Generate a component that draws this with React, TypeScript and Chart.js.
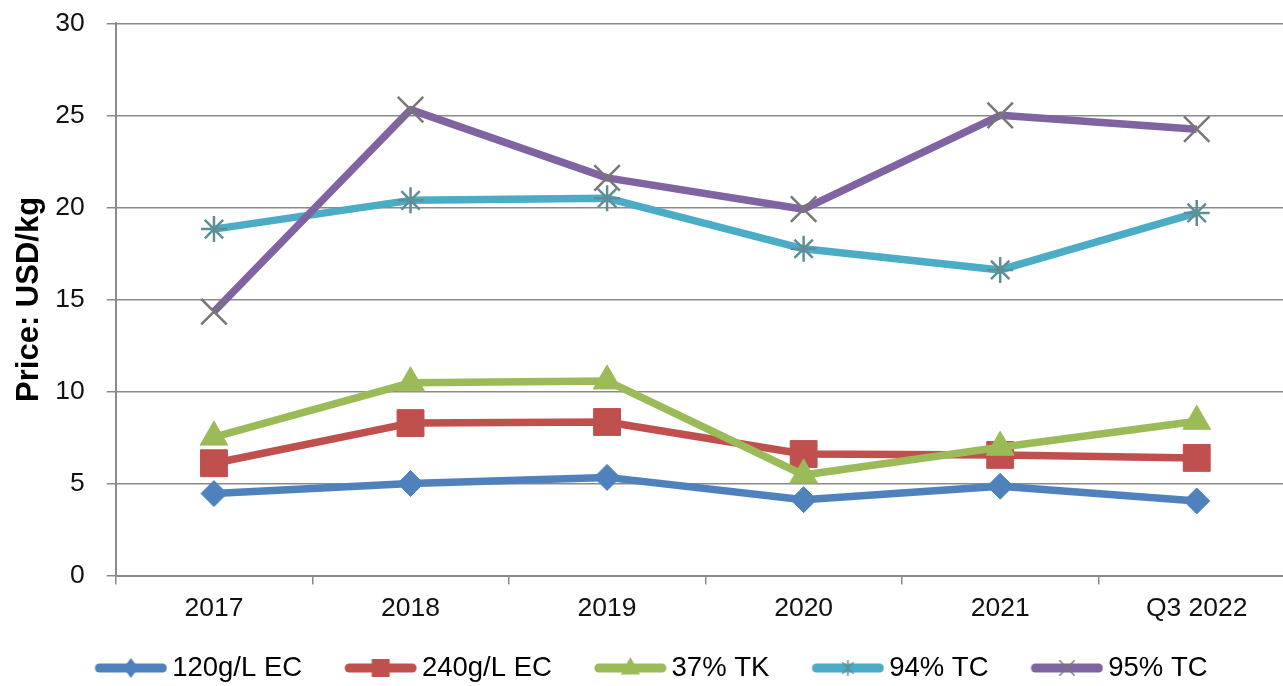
import React, { useEffect, useRef } from "react";
import { Chart, registerables } from "chart.js";

Chart.register(...registerables);

const categories = ["2017", "2018", "2019", "2020", "2021", "Q3 2022"];
const seriesNames = ["120g/L EC", "240g/L EC", "37% TK", "94% TC", "95% TC"];
const ec120 = [4.45, 5.0, 5.33, 4.12, 4.85, 4.05];
const ec240 = [6.1, 8.28, 8.34, 6.6, 6.55, 6.39];
const tk37 = [7.52, 10.47, 10.57, 5.46, 6.97, 8.38];
const tc94 = [18.82, 20.38, 20.5, 17.75, 16.6, 19.7];
const tc95 = [14.33, 25.31, 21.6, 19.9, 25.0, 24.25];
const yMin = 0;
const yMax = 30;
const yStep = 5;
const yTitle = "Price: USD/kg";

const FONT = "'Liberation Sans', Arial, sans-serif";
const GRID = "#8a8a8a";
const LEGEND_SHIFT = -14.25;

type Style = "rectRot" | "rect" | "triangle" | "star" | "crossRot";

const seriesStyle: { color: string; style: Style; radius: number; pBorder: string; pBorderW: number; legendR: number }[] = [
  { color: "#4F81BD", style: "rectRot", radius: 13, pBorder: "#4F81BD", pBorderW: 1, legendR: 10 },
  { color: "#C0504D", style: "rect", radius: 19, pBorder: "#C0504D", pBorderW: 1, legendR: 9 },
  { color: "#9BBB59", style: "triangle", radius: 16, pBorder: "#9BBB59", pBorderW: 1, legendR: 11 },
  { color: "#4BACC6", style: "star", radius: 13, pBorder: "#5e8e98", pBorderW: 2.5, legendR: 8 },
  { color: "#8064A2", style: "crossRot", radius: 18, pBorder: "#777777", pBorderW: 2.5, legendR: 11 },
];

function makeIcon(color: string, style: Style, r: number, border: string): HTMLCanvasElement {
  const c = document.createElement("canvas");
  c.width = 82;
  c.height = 26;
  const ctx = c.getContext("2d")!;
  const cx = 45.5;
  const cy = 13;
  ctx.strokeStyle = color;
  ctx.lineWidth = 9;
  ctx.lineCap = "round";
  ctx.beginPath();
  ctx.moveTo(14, cy);
  ctx.lineTo(77, cy);
  ctx.stroke();
  ctx.fillStyle = color;
  ctx.beginPath();
  if (style === "rectRot") {
    ctx.moveTo(cx, cy - r);
    ctx.lineTo(cx + r * 0.75, cy);
    ctx.lineTo(cx, cy + r);
    ctx.lineTo(cx - r * 0.75, cy);
    ctx.closePath();
    ctx.fill();
  } else if (style === "rect") {
    ctx.rect(cx - r, cy - r, 2 * r, 2 * r);
    ctx.fill();
  } else if (style === "triangle") {
    ctx.moveTo(cx, cy - r);
    ctx.lineTo(cx + r * 0.87, cy + r * 0.6);
    ctx.lineTo(cx - r * 0.87, cy + r * 0.6);
    ctx.closePath();
    ctx.fill();
  } else {
    ctx.strokeStyle = border;
    ctx.lineWidth = 1.5;
    ctx.lineCap = "butt";
    const d = r * 0.7;
    ctx.moveTo(cx - d, cy - d);
    ctx.lineTo(cx + d, cy + d);
    ctx.moveTo(cx + d, cy - d);
    ctx.lineTo(cx - d, cy + d);
    if (style === "star") {
      ctx.moveTo(cx, cy - r);
      ctx.lineTo(cx, cy + r);
    }
    ctx.stroke();
  }
  return c;
}

const legendShift = {
  id: "legendShift",
  afterLayout(chart: any) {
    const lg = chart.legend;
    if (lg) {
      lg.top += LEGEND_SHIFT;
      lg.bottom += LEGEND_SHIFT;
    }
  },
};

export default function App() {
  const ref = useRef<HTMLCanvasElement | null>(null);

  useEffect(() => {
    if (!ref.current) return;
    document.body.style.overflow = "hidden";
    const values = [ec120, ec240, tk37, tc94, tc95];
    const icons = seriesStyle.map((s) => makeIcon(s.color, s.style, s.legendR, s.pBorder));
    const chart = new Chart(ref.current, {
      type: "line",
      data: {
        labels: categories,
        datasets: values.map((v, i) => {
          const s = seriesStyle[i];
          return {
            label: seriesNames[i],
            data: v,
            borderColor: s.color,
            backgroundColor: s.color,
            borderWidth: 7.5,
            tension: 0,
            borderJoinStyle: "round" as const,
            pointStyle: s.style,
            pointRadius: s.radius,
            pointHoverRadius: s.radius,
            pointBackgroundColor: s.color,
            pointBorderColor: s.pBorder,
            pointBorderWidth: s.pBorderW,
            clip: false as any,
            order: values.length - i,
          };
        }),
      },
      plugins: [legendShift],
      options: {
        responsive: false,
        animation: false,
        devicePixelRatio: 1,
        events: [],
        layout: { autoPadding: false, padding: { top: 23.3, left: 7, right: 5, bottom: 0 } },
        plugins: {
          tooltip: { enabled: false },
          legend: {
            position: "bottom",
            labels: {
              usePointStyle: true,
              pointStyleWidth: 64,
              padding: 42,
              color: "#000",
              font: { family: FONT, size: 27.5 },
              generateLabels: () =>
                seriesNames.map((n, i) => ({
                  text: n,
                  pointStyle: icons[i] as any,
                  fillStyle: seriesStyle[i].color,
                  strokeStyle: seriesStyle[i].color,
                  lineWidth: 0,
                  hidden: false,
                  datasetIndex: i,
                  fontColor: "#000",
                })),
            },
          },
        },
        scales: {
          x: {
            type: "category",
            offset: true,
            afterFit: (scale: any) => {
              scale.height = 51;
              scale.paddingLeft = 0;
              scale.paddingRight = 0;
            },
            grid: {
              offset: true,
              drawOnChartArea: false,
              drawTicks: true,
              tickLength: 9,
              color: GRID,
              lineWidth: 1.5,
            },
            border: { display: true, color: GRID, width: 2 },
            ticks: {
              color: "#111",
              padding: 8,
              font: { family: FONT, size: 26.5 },
              maxRotation: 0,
              autoSkip: false,
            },
          },
          y: {
            min: yMin,
            max: yMax,
            afterFit: (scale: any) => {
              scale.width = 108.7;
              scale.paddingTop = 10;
              scale.paddingBottom = 10;
            },
            grid: {
              color: GRID,
              lineWidth: 1.5,
              tickLength: 9,
              drawTicks: true,
            },
            border: { display: true, color: GRID, width: 2 },
            ticks: {
              stepSize: yStep,
              color: "#111",
              padding: 22,
              font: { family: FONT, size: 26.5 },
            },
            title: {
              display: true,
              text: yTitle,
              color: "#000",
              padding: { top: 7, bottom: 0 },
              font: { family: FONT, size: 31, weight: "bold", lineHeight: 1 },
            },
          },
        },
      },
    });
    return () => chart.destroy();
  }, []);

  return (
    <div style={{ position: "fixed", left: 0, top: 0, width: 1283, height: 686, overflow: "hidden", background: "#fff" }}>
      <canvas ref={ref} width={1300} height={706} style={{ width: 1300, height: 706, display: "block" }} />
    </div>
  );
}
